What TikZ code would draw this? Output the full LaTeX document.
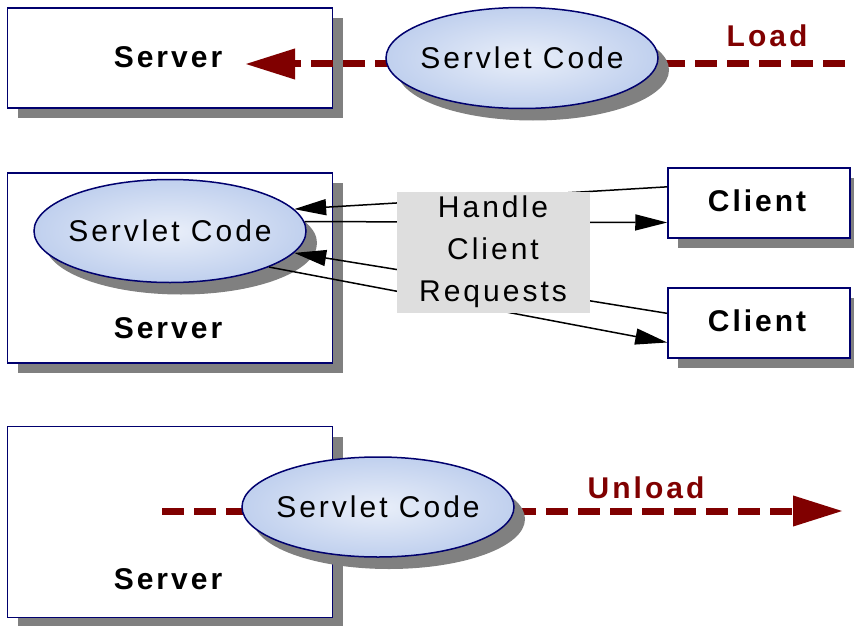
\documentclass[tikz,border=0pt]{standalone}
\usepackage{fontspec}
\newfontfamily\diagfont[LetterSpace=10]{Liberation Sans}
\usepackage{tikz}
\usetikzlibrary{shapes,arrows.meta,shadows}
\definecolor{navy}{RGB}{0,0,110}
\definecolor{maroon}{RGB}{128,0,0}
\definecolor{codeblue}{RGB}{192,208,238}
\definecolor{shadowgray}{RGB}{128,128,128}
\definecolor{stipple}{RGB}{222,222,222}

\begin{document}
\begin{tikzpicture}[
    x=1pt, y=-1pt,
    font=\diagfont\fontsize{30}{42}\selectfont,
    box/.style={rectangle, draw=navy, line width=1.5pt, fill=white, inner sep=0pt, drop shadow={shadow xshift=10pt, shadow yshift=-10pt, fill=shadowgray, opacity=1}},
    servlet/.style={ellipse, draw=navy, line width=1.5pt, inner color=white!65!codeblue, outer color=codeblue, minimum width=272pt, minimum height=101pt, inner xsep=-7pt, inner ysep=0pt, drop shadow={shadow xshift=11pt, shadow yshift=-12pt, fill=shadowgray, opacity=1}},
    srvtext/.style={font=\diagfont\fontsize{30}{42}\selectfont\bfseries, inner sep=0pt},
    stagelabel/.style={srvtext, text=maroon},
    lifeline/.style={draw=maroon, line width=7pt, dash pattern=on 22pt off 10pt, -{Triangle[length=50pt, width=29pt]}},
    request/.style={draw=black, line width=1.5pt, -{Triangle[length=32pt, width=16pt]}},
    handler/.style={rectangle, fill=stipple, align=center, minimum width=193pt, minimum height=121pt, inner sep=0pt}
]
    \useasboundingbox (0,0) rectangle (854,626);

    % Servers
    \node[box, minimum width=325pt, minimum height=100pt] (server1) at (170,58) {};
    \node[box, minimum width=325pt, minimum height=190pt] (server2) at (170,268) {};
    \node[box, minimum width=325pt, minimum height=191pt] (server3) at (170,522) {};
    \node[srvtext] (srvname1) at (168,57) {Server};
    \node[srvtext] (srvname2) at (168,328) {Server};
    \node[srvtext] (srvname3) at (168,579) {Server};

    % Clients
    \node[box, minimum width=182pt, minimum height=70pt] (client1) at (759,203) {};
    \node[box, minimum width=182pt, minimum height=70pt] (client2) at (759,323) {};
    \node[srvtext] (cltname1) at (757,201) {Client};
    \node[srvtext] (cltname2) at (757,321) {Client};

    % Load / unload
    \coordinate (loadstart) at (845,64);
    \coordinate (loadtip) at (245,64);
    \coordinate (unloadstart) at (162,511);
    \coordinate (unloadtip) at (843,511);
    \draw[lifeline] (loadstart) -- (loadtip);
    \draw[lifeline] (unloadstart) -- (unloadtip);
    \node[stagelabel] (load) at (767,36) {Load};
    \node[stagelabel] (unload) at (646,488) {Unload};

    % Servlet code
    \node[servlet] (code1) at (522,58) {Servlet Code};
    \node[servlet, minimum height=103pt] (code2) at (170,231) {Servlet Code};
    \node[servlet, minimum height=100pt] (code3) at (378,507) {Servlet Code};

    % Requests
    \draw[request] (client1.170) -- (code2.10);
    \draw[request] (code2.4) -- (client1.192);
    \draw[request] (client2.174) -- (code2.-10);
    \draw[request] (code2.-20) -- (client2.192);

    \node[handler] (handle) at (493,252) {Handle\\Client\\Requests};
\end{tikzpicture}
\end{document}
